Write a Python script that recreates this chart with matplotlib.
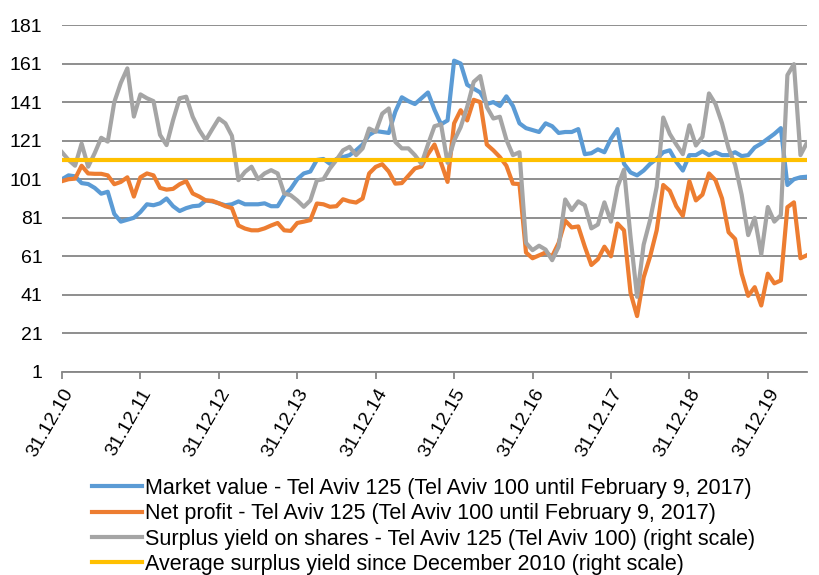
import matplotlib
matplotlib.use("Agg")
import matplotlib.pyplot as plt
import numpy as np

# ===================== data (monthly, Dec 2010 - Jun 2020) =====================
market_value = [101, 103, 102.5, 99, 98.5, 96.5, 93.5, 94.5, 83, 79, 80, 81,
                84, 88, 87.5, 88.5, 91, 87, 84.5, 86, 87, 87.3, 90, 89.5,
                88.5, 87.5, 88, 89.5, 88, 88, 88, 88.5, 87, 87, 92.5, 96,
                101, 104, 105, 111, 111.5, 109, 111.5, 112.5, 113.5, 116, 119, 124,
                126, 125.5, 125, 136, 143.5, 141.5, 140, 143, 146, 137, 129.5, 131.5,
                162.5, 161, 150, 148, 146, 140, 141, 139, 144, 139, 130, 127.5,
                126.5, 125.5, 130, 128.5, 125, 125.5, 125.5, 127, 114, 114.5, 116.5, 115,
                122, 127, 109, 104.5, 103, 105.5, 109, 111.5, 115, 116, 110, 105.5,
                113.5, 113.5, 115.5, 113.5, 115, 113.5, 113.5, 115, 113, 113.5, 117.5, 119.5,
                122, 124.5, 127.5, 98, 101, 102, 102.3]
net_profit = [100, 101, 101.3, 108, 104, 103.8, 103.8, 103, 98.4, 99.6, 102, 92,
              102, 104, 103, 96.5, 95.6, 96, 98.4, 100, 93.6, 92, 90, 89.8,
              88.5, 87, 86, 77, 75.4, 74.5, 74.5, 75.5, 77, 78.3, 74.5, 74.2,
              78.3, 79, 79.8, 88.4, 88, 86.7, 87, 90.6, 89.5, 88.9, 91, 104,
              107.4, 108.8, 105, 98.7, 99, 102.8, 106.6, 107.6, 114, 119, 109.5, 99.6,
              130, 136.8, 131.5, 142.2, 141, 119, 116, 112.5, 108, 98.7, 98.5, 63,
              60, 61.5, 63, 61, 68, 79.5, 76, 76.5, 66, 56.5, 59.5, 66,
              61, 78, 74.5, 42, 30, 50, 61, 74.5, 98, 95, 87, 82,
              100, 90, 93, 104, 100.5, 91, 73.5, 70, 52, 40.5, 45, 35.5,
              52, 47, 48.5, 86.5, 89, 60, 61.6]
surplus_yield = [115, 111, 108, 119.5, 107.5, 114.5, 122.5, 120.5, 141, 151, 158.5, 133.5,
                 145, 143, 141.5, 124, 118.7, 131.7, 143, 143.8, 133.4, 126.5, 121.3, 127,
                 132.5, 130, 123.5, 100.5, 104.8, 107.5, 101, 104, 105.7, 104, 93.6, 92.7,
                 90, 86.7, 90, 100.4, 101, 106.6, 111, 116, 117.8, 113.5, 117, 127.3,
                 125.6, 135, 137.7, 120.4, 117, 117, 113.5, 109, 119, 128.5, 129.5, 109.5,
                 121, 128, 138.5, 151.5, 154.5, 138.5, 132.5, 133.4, 121.5, 113.5, 115, 68,
                 64.2, 66.5, 64.5, 59, 66, 90.5, 85, 89.5, 87.5, 75.5, 77.5, 89,
                 79, 97, 106, 71, 40, 67, 80, 97, 133, 124.5, 119, 114,
                 129, 118.5, 123, 145.5, 140, 130, 117, 108.5, 93, 72, 81, 62,
                 86.6, 79, 82.4, 155, 160.7, 113.5, 120]
avg_surplus_yield = 111.2

tick_labels = ["31.12.10", "31.12.11", "31.12.12", "31.12.13", "31.12.14",
               "31.12.15", "31.12.16", "31.12.17", "31.12.18", "31.12.19"]
y_ticks = [1, 21, 41, 61, 81, 101, 121, 141, 161, 181]

legend_labels = [
    "Market value - Tel Aviv 125 (Tel Aviv 100 until February 9, 2017)",
    "Net profit - Tel Aviv 125 (Tel Aviv 100 until February 9, 2017)",
    "Surplus yield on shares - Tel Aviv 125 (Tel Aviv 100) (right scale)",
    "Average surplus yield since December 2010 (right scale)",
]
COLORS = ["#5B9BD5", "#ED7D31", "#A5A5A5", "#FFC000"]

# ===================== plot =====================
plt.rcParams['font.family'] = ['Liberation Sans', 'DejaVu Sans']

fig = plt.figure(figsize=(8.2, 5.75), dpi=100)
ax = fig.add_axes([62 / 820, 1 - 372 / 575, 745 / 820, 347 / 575])

x = np.arange(len(market_value))
lw = 3.0
ax.plot(x, market_value, color=COLORS[0], lw=lw, label=legend_labels[0], zorder=3)
ax.plot(x, net_profit, color=COLORS[1], lw=lw, label=legend_labels[1], zorder=3)
ax.plot(x, surplus_yield, color=COLORS[2], lw=lw, label=legend_labels[2], zorder=3)
ax.plot(x, [avg_surplus_yield] * len(x), color=COLORS[3], lw=lw, label=legend_labels[3], zorder=4)

ax.set_xlim(0, len(x) - 1)
ax.set_ylim(1, 181)
ax.set_yticks(y_ticks)
ax.set_yticklabels([str(v) for v in y_ticks], fontsize=14)
ax.set_xticks(np.arange(0, len(x), 12))
ax.set_xticklabels(tick_labels, rotation=60, ha='right', rotation_mode='anchor',
                   fontsize=14)

ax.grid(axis='y', color='#868686', lw=1.3)
ax.set_axisbelow(True)
for s in ['left', 'right', 'top']:
    ax.spines[s].set_visible(False)
ax.spines['bottom'].set_color('#868686')
ax.spines['bottom'].set_linewidth(1.3)
ax.tick_params(axis='y', length=0, pad=14)
ax.tick_params(axis='x', direction='out', length=5, color='#868686', width=1.3, pad=5)

fig.legend(loc='upper left', bbox_to_anchor=(92.5 / 820, 1 - 478 / 575), frameon=False,
           prop={'size': 15.5}, handlelength=2.3, handletextpad=0.15,
           labelspacing=0.2, borderpad=0, borderaxespad=0)

fig.savefig("out.png", dpi=100)
